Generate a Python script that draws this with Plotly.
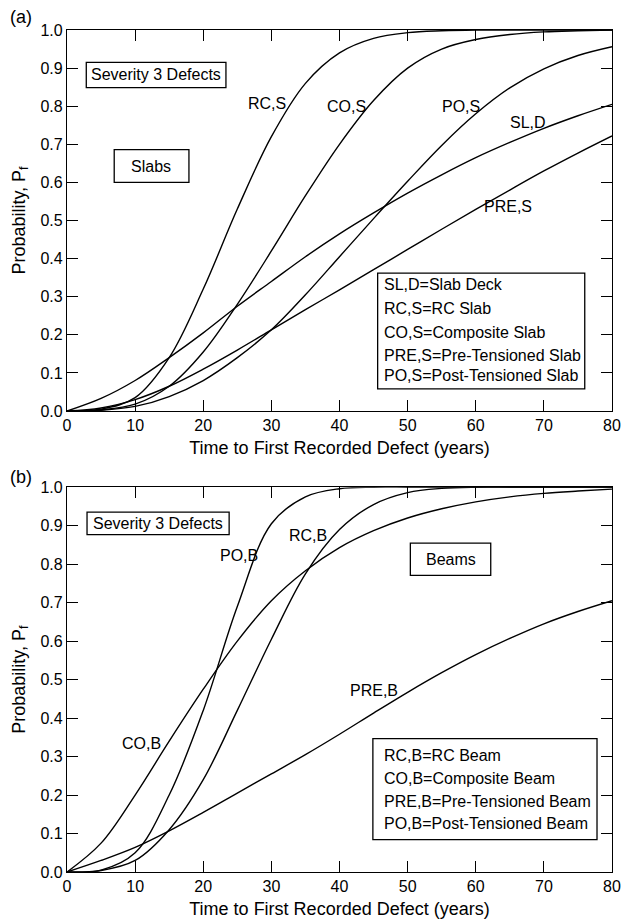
import plotly.graph_objects as go

# ---------------- data ----------------
years = [0, 5, 10, 15, 20, 25, 30, 35, 40, 45, 50, 55, 60, 65, 70, 75, 80]

# (a) Slabs
sl_d  = [0, 0.033, 0.08, 0.14, 0.205, 0.275, 0.34, 0.405, 0.465, 0.52, 0.572, 0.62, 0.665, 0.705, 0.742, 0.775, 0.805]
rc_s  = [0, 0.005, 0.035, 0.14, 0.32, 0.53, 0.72, 0.86, 0.94, 0.978, 0.993, 0.998, 1.0, 1.0, 1.0, 1.0, 1.0]
co_s  = [0, 0.003, 0.018, 0.065, 0.155, 0.28, 0.42, 0.565, 0.70, 0.815, 0.90, 0.95, 0.975, 0.988, 0.995, 0.998, 1.0]
po_s  = [0, 0.002, 0.012, 0.038, 0.08, 0.14, 0.213, 0.305, 0.405, 0.505, 0.603, 0.697, 0.78, 0.848, 0.898, 0.933, 0.956]
pre_s = [0, 0.008, 0.03, 0.065, 0.11, 0.16, 0.213, 0.266, 0.318, 0.371, 0.424, 0.477, 0.529, 0.58, 0.63, 0.677, 0.722]

# (b) Beams
rc_b  = [0, 0.004, 0.03, 0.11, 0.24, 0.42, 0.605, 0.775, 0.89, 0.955, 0.986, 0.997, 1.0, 1.0, 1.0, 1.0, 1.0]
co_b  = [0, 0.075, 0.2, 0.34, 0.475, 0.60, 0.705, 0.783, 0.843, 0.887, 0.92, 0.944, 0.962, 0.975, 0.984, 0.99, 0.995]
pre_b = [0, 0.03, 0.064, 0.107, 0.155, 0.205, 0.255, 0.305, 0.358, 0.413, 0.467, 0.518, 0.565, 0.607, 0.645, 0.677, 0.705]
po_b  = [0, 0.005, 0.05, 0.2, 0.42, 0.69, 0.905, 0.975, 0.996, 1.0, 1.0, 1.0, 1.0, 1.0, 1.0, 1.0, 1.0]

x_ticks = [0, 10, 20, 30, 40, 50, 60, 70, 80]
y_ticks = [0, 0.1, 0.2, 0.3, 0.4, 0.5, 0.6, 0.7, 0.8, 0.9, 1.0]

slab_legend = ["SL,D=Slab Deck", "RC,S=RC Slab", "CO,S=Composite Slab",
               "PRE,S=Pre-Tensioned Slab", "PO,S=Post-Tensioned Slab"]
beam_legend = ["RC,B=RC Beam", "CO,B=Composite Beam",
               "PRE,B=Pre-Tensioned Beam", "PO,B=Post-Tensioned Beam"]

FONT = "Liberation Sans, Arial, Helvetica, sans-serif"

fig = go.Figure()
line = dict(color="black", width=1.4, shape="spline", smoothing=1.0)

for ys in [sl_d, rc_s, co_s, po_s, pre_s]:
    fig.add_trace(go.Scatter(x=years, y=ys, mode="lines", line=line,
                             xaxis="x", yaxis="y", showlegend=False, hoverinfo="skip"))
for ys in [rc_b, co_b, pre_b, po_b]:
    fig.add_trace(go.Scatter(x=years, y=ys, mode="lines", line=line,
                             xaxis="x2", yaxis="y2", showlegend=False, hoverinfo="skip"))

def xax(anchor):
    return dict(anchor=anchor, domain=[0, 1], range=[0, 80], tickvals=x_ticks,
                ticks="inside", ticklen=11, tickwidth=1.2, tickcolor="black",
                mirror="ticks", showline=True, linecolor="black", linewidth=1.3,
                showgrid=False, zeroline=False, automargin=False,
                tickfont=dict(size=16, color="black"),
                title=dict(text="Time to First Recorded Defect (years)",
                           font=dict(size=18, color="black"), standoff=8))

def yax(anchor, domain):
    return dict(anchor=anchor, domain=domain, range=[0, 1], tickvals=y_ticks,
                tickformat=".1f",
                ticks="inside", ticklen=11, tickwidth=1.2, tickcolor="black",
                mirror="ticks", showline=True, linecolor="black", linewidth=1.3,
                showgrid=False, zeroline=False, automargin=False,
                tickfont=dict(size=16, color="black"),
                title=dict(text="Probability, P<sub>f</sub>",
                           font=dict(size=18, color="black"), standoff=10))

annotations = []
shapes = []

def label(text, x, y, xr, yr, anchor="center"):
    annotations.append(dict(text=text, x=x, y=y, xref=xr, yref=yr, showarrow=False,
                            xanchor=anchor, yanchor="middle",
                            font=dict(size=16, color="black", family=FONT)))

def box(x0, x1, y0, y1, xr, yr):
    shapes.append(dict(type="rect", x0=x0, x1=x1, y0=y0, y1=y1, xref=xr, yref=yr,
                       line=dict(color="black", width=1.3), fillcolor="white", layer="above"))

# ---- panel (a)
box(2.83, 23.33, 0.849, 0.915, "x", "y")
label("Severity 3 Defects", 13.1, 0.882, "x", "y")
box(6.93, 17.9, 0.600, 0.686, "x", "y")
label("Slabs", 12.4, 0.643, "x", "y")
label("RC,S", 29.4, 0.806, "x", "y")
label("CO,S", 41.1, 0.800, "x", "y")
label("PO,S", 57.8, 0.800, "x", "y")
label("SL,D", 67.7, 0.758, "x", "y")
label("PRE,S", 64.7, 0.538, "x", "y")
box(45.6, 76.0, 0.058, 0.362, "x", "y")
for t, yy in zip(slab_legend, [0.331, 0.269, 0.207, 0.147, 0.093]):
    label(t, 46.2, yy, "x", "y", anchor="left")

# ---- panel (b)
box(2.94, 23.8, 0.877, 0.935, "x2", "y2")
label("Severity 3 Defects", 13.4, 0.906, "x2", "y2")
box(50.4, 62.2, 0.771, 0.8545, "x2", "y2")
label("Beams", 56.3, 0.813, "x2", "y2")
label("PO,B", 25.2, 0.823, "x2", "y2")
label("RC,B", 35.4, 0.875, "x2", "y2")
label("CO,B", 10.9, 0.3335, "x2", "y2")
label("PRE,B", 45.1, 0.472, "x2", "y2")
box(44.9, 77.8, 0.084, 0.3465, "x2", "y2")
for t, yy in zip(beam_legend, [0.303, 0.244, 0.184, 0.126]):
    label(t, 46.3, yy, "x2", "y2", anchor="left")

# panel letters
annotations.append(dict(text="(a)", x=-0.108, y=1.0154, xref="paper", yref="paper",
                        showarrow=False, xanchor="left", yanchor="middle",
                        font=dict(size=18, color="black", family=FONT)))
annotations.append(dict(text="(b)", x=-0.108, y=0.469, xref="paper", yref="paper",
                        showarrow=False, xanchor="left", yanchor="middle",
                        font=dict(size=18, color="black", family=FONT)))

fig.update_layout(
    width=622, height=920,
    margin=dict(l=67, r=10, t=30, b=48, autoexpand=False),
    paper_bgcolor="white", plot_bgcolor="white",
    font=dict(family=FONT, size=16, color="black"),
    xaxis=xax("y"), yaxis=yax("x", [0.5475, 1.0]),
    xaxis2=xax("y2"), yaxis2=yax("x2", [0.0, 0.457]),
    annotations=annotations, shapes=shapes,
    showlegend=False,
)

fig.write_html("out.html",
               config={"displayModeBar": False},
               post_script="document.body.style.margin='0';document.body.style.padding='0';")
